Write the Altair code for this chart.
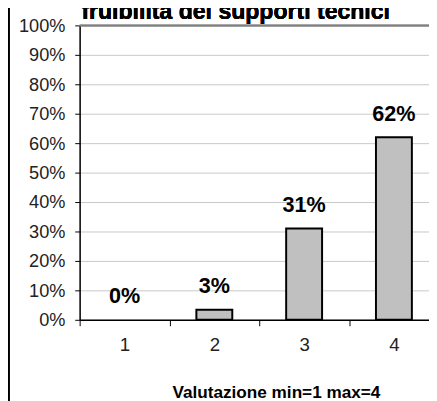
import altair as alt
import pandas as pd

categories = ["1", "2", "3", "4"]
values = [0.0, 0.034, 0.31, 0.62]
labels = ["0%", "3%", "31%", "62%"]
y_ticks = [0.0, 0.1, 0.2, 0.3, 0.4, 0.5, 0.6, 0.7, 0.8, 0.9, 1.0]
title_text = "fruibilità dei supporti tecnici"
x_title = "Valutazione min=1 max=4"

df = pd.DataFrame({"cat": categories, "val": values, "lab": labels})

FONT = "Liberation Sans, Arial, sans-serif"

x_enc = alt.X(
    "cat:N",
    sort=categories,
    scale=alt.Scale(type="band", range=[0, 366], paddingInner=0, paddingOuter=0),
    axis=alt.Axis(
        title=x_title,
        labelAngle=0,
        tickBand="extent",
        tickSize=6,
        tickColor="black",
        domainColor="black",
        domainWidth=1.5,
        labelFont=FONT,
        labelFontSize=19,
        labelColor="#222222",
        labelPadding=10,
        titleFont=FONT,
        titleFontSize=17.5,
        titleFontWeight="bold",
        titleColor="black",
        titleX=200,
        titleY=79,
        titleBaseline="alphabetic",
        titleAnchor="middle",
        titleAlign="center",
        grid=False,
    ),
)

y_enc = alt.Y(
    "val:Q",
    scale=alt.Scale(domain=[0, 1], nice=False),
    axis=alt.Axis(
        title=None,
        format=".0%",
        values=y_ticks,
        tickCount=11,
        labelOverlap=False,
        tickSize=5,
        tickColor="black",
        domainColor="black",
        domainWidth=1.5,
        labelFont=FONT,
        labelFontSize=18.5,
        labelColor="#222222",
        labelPadding=10,
        gridColor="#c8c8c8",
        gridWidth=1,
    ),
)

bars = alt.Chart(df).mark_bar(
    width=alt.RelativeBandSize(0.4),
    color="#c0c0c0",
    stroke="black",
    strokeWidth=2,
).encode(
    x=x_enc,
    y=y_enc,
    strokeOpacity=alt.condition("datum.val > 0", alt.value(1), alt.value(0)),
)

text = alt.Chart(df).mark_text(
    dy=-17,
    baseline="alphabetic",
    align="center",
    font=FONT,
    fontSize=22,
    fontWeight="bold",
    color="black",
).encode(x=x_enc, y=y_enc, text="lab:N")

top_line = alt.Chart(df).mark_rule(color="#808080", strokeWidth=1.5).encode(
    x=alt.value(0), x2=alt.value(356), y=alt.value(0)
)

left_border = alt.Chart(df).mark_rule(color="black", strokeWidth=1.5).encode(
    x=alt.value(-72.2), y=alt.value(-30), y2=alt.value(400)
)

title = alt.Chart(df).mark_text(
    font=FONT,
    fontSize=23.5,
    fontWeight="bold",
    baseline="alphabetic",
    align="center",
    color="black",
).encode(x=alt.value(159), y=alt.value(-7), text=alt.value(title_text))

chart = alt.layer(bars, text, top_line, left_border, title).properties(
    width=356,
    height=300,
    autosize=alt.AutoSizeParams(type="none"),
    padding={"left": 73, "top": 14, "right": 0, "bottom": 79},
).configure_view(stroke=None).configure(background="white")

chart.save("out.html", embed_options={"renderer": "svg", "actions": False})
